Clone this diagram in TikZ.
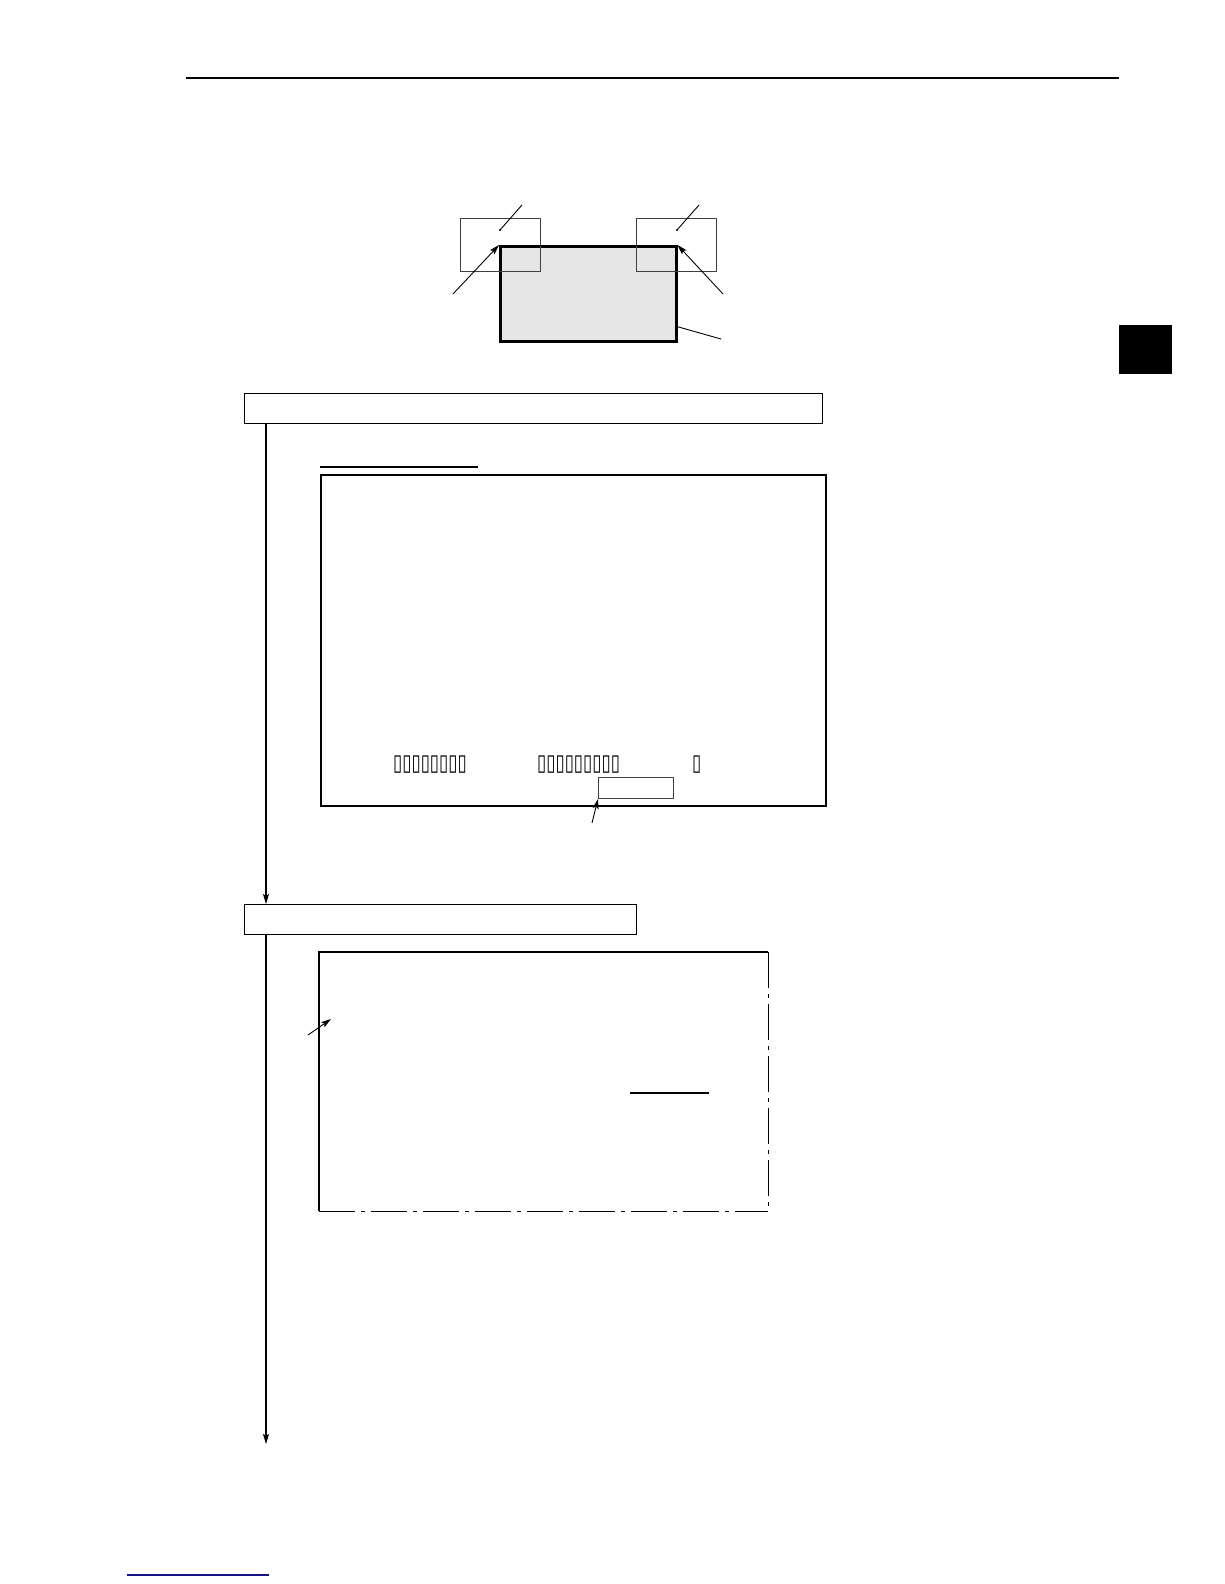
\documentclass[tikz,border=0pt]{standalone}
\usepackage{fontspec}
\newfontfamily\tofufont{DejaVu Sans}
\usetikzlibrary{arrows.meta}
\newcommand{\tofurow}[1]{\scalebox{0.88}[1.2]{\tofufont\fontsize{19}{19}\selectfont #1}}
\begin{document}
\begin{tikzpicture}[x=1pt,y=-1pt,
  frame/.style={draw, inner sep=0pt, anchor=north west, line width=1.3pt},
  heavy/.style={draw, inner sep=0pt, anchor=north west, line width=2.3pt},
  thinbox/.style={draw=black!75, inner sep=0pt, anchor=north west, line width=0.9pt},
  flowarrow/.style={line width=1.2pt, -{Stealth[length=10pt,width=6pt,inset=2pt]}},
  leader/.style={line width=0.9pt},
  leaderarrow/.style={line width=0.9pt, -{Stealth[length=10pt,width=6pt,inset=2pt]}},
  dashdot/.style={line width=1.6pt, dash pattern=on 36pt off 6pt on 4pt off 6pt},
  tofu/.style={inner sep=0pt, anchor=west}]
\fill[white] (0,0) rectangle (1224,1584);
\useasboundingbox (0,0) rectangle (1224,1584);

% page furniture
\coordinate (ruleL) at (186,78);
\coordinate (ruleR) at (1119,78);
\draw[line width=1.3pt] (ruleL) -- (ruleR);
\node[fill=black, inner sep=0pt, anchor=north west, minimum width=53pt, minimum height=49pt] (tab) at (1119,325) {};
\coordinate (linkL) at (127,1575);
\coordinate (linkR) at (269,1575);
\draw[line width=1.5pt, draw={rgb,255:red,20;green,20;blue,140}] (linkL) -- (linkR);

% top sketch
\node[draw, fill=black!10, inner sep=0pt, anchor=north west, line width=2.5pt,
      minimum width=176pt, minimum height=95pt] (g) at (499,245) {};
\node[thinbox, minimum width=80pt, minimum height=53pt] (sl) at (460,218) {};
\node[thinbox, minimum width=80pt, minimum height=53pt] (sr) at (636,218) {};
\coordinate (slA) at (522,205);
\coordinate (slB) at (500,230);
\coordinate (srA) at (699,205);
\coordinate (srB) at (677,230);
\draw[leader] (slA) -- (slB);
\fill (slB) circle (1.2pt);
\draw[leader] (srA) -- (srB);
\fill (srB) circle (1.2pt);
\coordinate (alS) at (453,294);
\coordinate (arS) at (723,294);
\draw[leaderarrow] (alS) -- (g.north west);
\draw[leaderarrow] (arS) -- (g.north east);
\coordinate (gR) at (675,326);
\coordinate (gRe) at (721,339);
\draw[leader] (gR) -- (gRe);

% first step
\node[frame, minimum width=578pt, minimum height=30pt] (h1) at (244,393) {};
\coordinate (ul1L) at (320,467);
\coordinate (ul1R) at (478,467);
\draw[line width=1.3pt] (ul1L) -- (ul1R);
\node[heavy, minimum width=505pt, minimum height=331pt] (b1) at (320,474) {};
\node[tofu] (t1) at (393,765) {\tofurow{▯▯▯▯▯▯▯▯}};
\node[tofu] (t2) at (537,765) {\tofurow{▯▯▯▯▯▯▯▯▯}};
\node[tofu] (t3) at (692,765) {\tofurow{▯}};
\node[thinbox, minimum width=75pt, minimum height=21pt] (sb) at (598,777) {};
\coordinate (sbS) at (592,823);
\draw[leaderarrow] (sbS) -- (sb.south west);

% flow line
\coordinate (f1) at (266,423);
\coordinate (f2) at (266,904);
\draw[flowarrow] (f1) -- (f2);

% second step
\node[frame, minimum width=392pt, minimum height=30pt] (h2) at (244,904) {};
\node[inner sep=0pt, anchor=north west, minimum width=449pt, minimum height=259pt] (b2) at (319,952) {};
\draw[line width=2.3pt] (b2.south west) -- (b2.north west) -- (b2.north east);
\draw[dashdot] (b2.south west) -- (b2.south east);
\draw[dashdot] (b2.north east) -- (b2.south east);
\coordinate (b2aS) at (308,1035);
\coordinate (b2aE) at (331,1019);
\draw[leaderarrow] (b2aS) -- (b2aE);
\coordinate (ul2L) at (630,1093);
\coordinate (ul2R) at (709,1093);
\draw[line width=1.3pt] (ul2L) -- (ul2R);

\coordinate (f3) at (266,934);
\coordinate (f4) at (266,1444);
\draw[flowarrow] (f3) -- (f4);
\end{tikzpicture}
\end{document}
